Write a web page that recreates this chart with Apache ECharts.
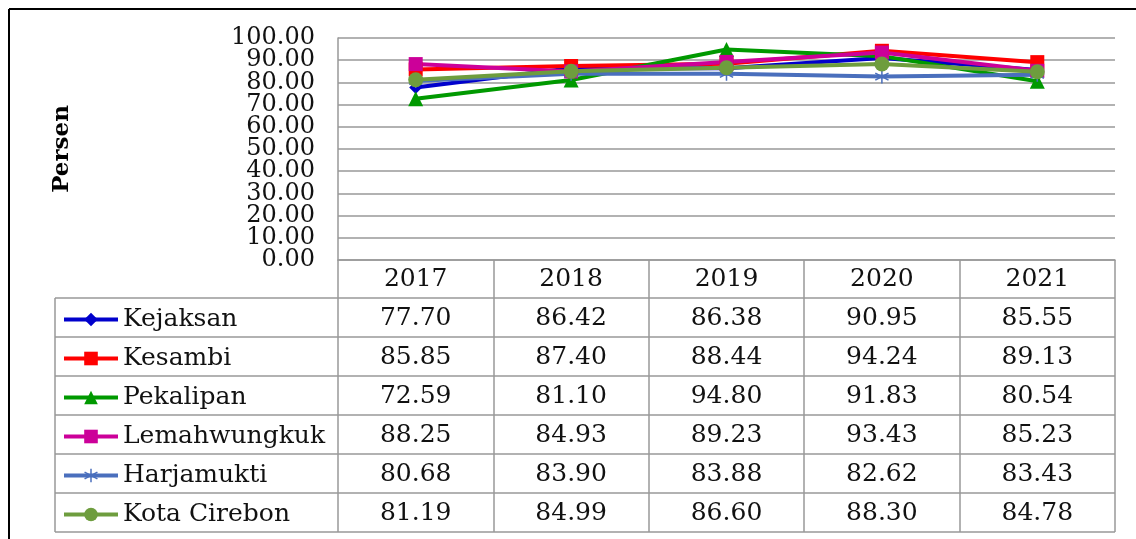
<!DOCTYPE html>
<html>
<head>
<meta charset="utf-8">
<script src="https://cdn.jsdelivr.net/npm/echarts@6/dist/echarts.min.js"></script>
<style>
  html, body { margin: 0; padding: 0; background: #fff; }
  #chart { width: 1136px; height: 539px; }
</style>
</head>
<body>
<div id="chart"></div>
<script>
// data
var years = ['2017', '2018', '2019', '2020', '2021'];
var names = ['Kejaksan', 'Kesambi', 'Pekalipan', 'Lemahwungkuk', 'Harjamukti', 'Kota Cirebon'];
var kejaksan = [77.70, 86.42, 86.38, 90.95, 85.55];
var kesambi = [85.85, 87.40, 88.44, 94.24, 89.13];
var pekalipan = [72.59, 81.10, 94.80, 91.83, 80.54];
var lemahwungkuk = [88.25, 84.93, 89.23, 93.43, 85.23];
var harjamukti = [80.68, 83.90, 83.88, 82.62, 83.43];
var kotaCirebon = [81.19, 84.99, 86.60, 88.30, 84.78];
var yMin = 0, yMax = 100, yStep = 10;

var allValues = [kejaksan, kesambi, pekalipan, lemahwungkuk, harjamukti, kotaCirebon];
var colors = ['#0000cc', '#ff0000', '#009900', '#cc0099', '#4a6fbd', '#6e9d3e'];

// asterisk marker (vertical bar + two diagonals)
var star = 'path://M9,0L11,0L11,20L9,20Z' +
  'M1.84,4.13L19.16,14.13L18.16,15.87L0.84,5.87Z' +
  'M18.16,4.13L19.16,5.87L1.84,15.87L0.84,14.13Z';
var symbols = ['diamond', 'rect', 'triangle', 'rect', star, 'circle'];
var sizes = [13, 14, 15, 14, 14, 15];

var FONT = 'DejaVu Serif';
var gridTop = 38, gridBottom = 260, gridLeft = 338, gridRight = 1115;
var rowTop = 298, rowH = 39, tableLeft = 55;

var dom = document.getElementById('chart');
var myChart = echarts.init(dom);

var series = names.map(function (n, i) {
  return {
    name: n,
    type: 'line',
    yAxisIndex: 0,
    data: allValues[i],
    symbol: symbols[i],
    symbolSize: sizes[i],
    color: colors[i],
    lineStyle: {width: 4, color: colors[i]},
    itemStyle: {color: colors[i]},
    animation: false
  };
});

var labelStyle = {fontFamily: FONT, fontSize: 24, color: '#111', margin: 23};

var option = {
  animation: false,
  grid: {
    left: gridLeft, right: 1136 - gridRight, top: gridTop, bottom: 539 - gridBottom,
    containLabel: false
  },
  legend: {
    orient: 'vertical',
    left: 62,
    top: rowTop + 9,
    padding: 0,
    itemWidth: 54,
    itemHeight: 17,
    itemGap: 14,
    selectedMode: false,
    lineStyle: {width: 4},
    textStyle: {fontFamily: FONT, fontSize: 25, color: '#111', lineHeight: 25}
  },
  xAxis: {
    type: 'category',
    data: years,
    boundaryGap: true,
    axisLine: {show: true, lineStyle: {color: '#999', width: 1.5}},
    axisTick: {show: true, length: 532 - gridBottom, lineStyle: {color: '#999', width: 1.5}},
    axisLabel: {fontFamily: FONT, fontSize: 25, color: '#111', margin: 7, lineHeight: 25}
  },
  yAxis: [{
    // inner ticks 10..90
    type: 'value',
    min: yMin, max: yMax, interval: yStep,
    name: 'Persen',
    nameLocation: 'middle',
    nameRotate: 90,
    nameGap: 264,
    nameTextStyle: {fontFamily: FONT, fontWeight: 'bold', fontSize: 23, color: '#000'},
    axisLine: {show: true, lineStyle: {color: '#999', width: 1.5}},
    axisTick: {show: false},
    splitLine: {lineStyle: {color: '#999', width: 1.5}},
    axisLabel: Object.assign({
      showMinLabel: false, showMaxLabel: false,
      formatter: function (v) { return v.toFixed(2); }
    }, labelStyle)
  }, {
    // end ticks 0 and 100
    type: 'value',
    position: 'left',
    min: yMin, max: yMax, interval: yStep,
    axisLine: {show: false},
    axisTick: {show: false},
    splitLine: {show: false},
    axisLabel: Object.assign({
      showMinLabel: true, showMaxLabel: true,
      formatter: function (v) { return (v === yMin || v === yMax) ? v.toFixed(2) : ''; }
    }, labelStyle)
  }],
  series: series
};
myChart.setOption(option);

// table body and frame
var graphics = [];
graphics.push({type: 'line', shape: {x1: 9, y1: 9, x2: 1136, y2: 9}, style: {stroke: '#000', lineWidth: 2}});
graphics.push({type: 'line', shape: {x1: 9, y1: 9, x2: 9, y2: 539}, style: {stroke: '#000', lineWidth: 2}});
for (var r = 0; r <= names.length; r++) {
  var y = rowTop + r * rowH;
  graphics.push({type: 'line', shape: {x1: tableLeft, y1: y, x2: gridRight, y2: y},
    style: {stroke: '#999', lineWidth: 1.5}});
}
graphics.push({type: 'line', shape: {x1: tableLeft, y1: rowTop, x2: tableLeft, y2: rowTop + names.length * rowH},
  style: {stroke: '#999', lineWidth: 1.5}});
for (var i = 0; i < names.length; i++) {
  for (var j = 0; j < years.length; j++) {
    var cx = myChart.convertToPixel({xAxisIndex: 0}, years[j]);
    graphics.push({
      type: 'text',
      x: cx, y: rowTop + i * rowH + rowH / 2 + 1,
      style: {
        text: allValues[i][j].toFixed(2),
        font: '25px "' + FONT + '"',
        fill: '#111',
        align: 'center',
        verticalAlign: 'middle'
      }
    });
  }
}
myChart.setOption({graphic: graphics});
</script>
</body>
</html>
